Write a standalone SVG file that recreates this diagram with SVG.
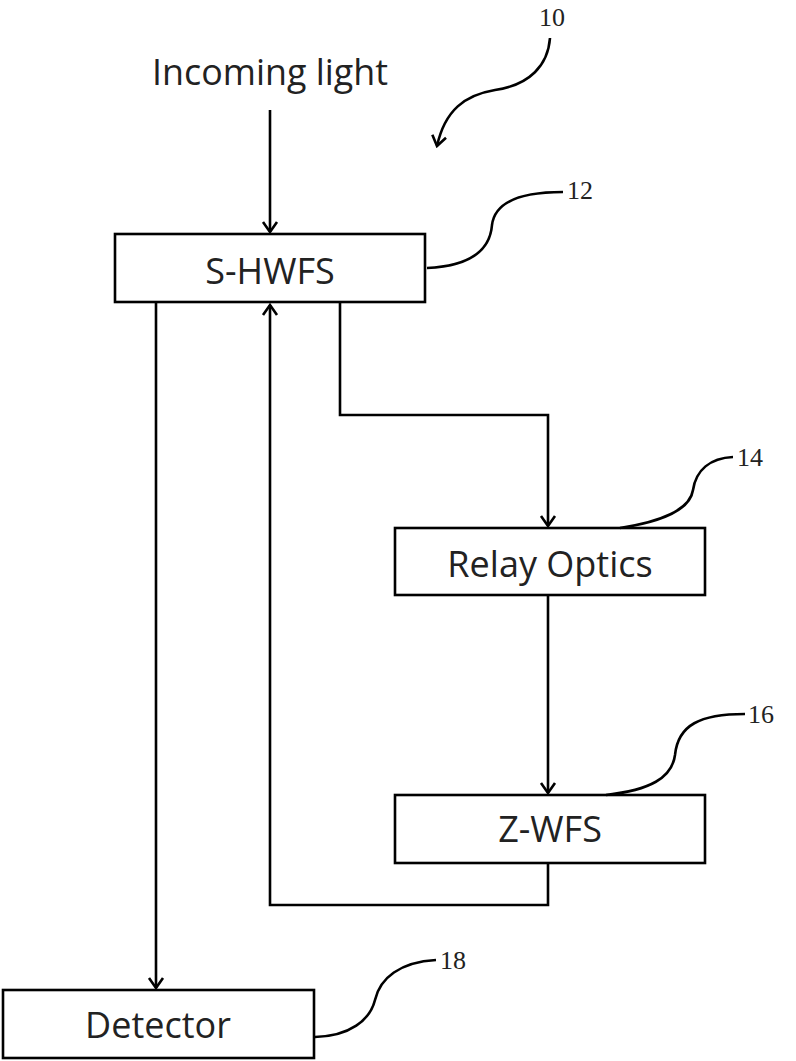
<svg xmlns="http://www.w3.org/2000/svg" width="796" height="1061" viewBox="0 0 796 1061">
<style>
.box{fill:#fff;stroke:#000;stroke-width:2.6}
.lbl{font-family:"Open Sans","Liberation Sans",sans-serif;font-size:36px;fill:#222;text-anchor:middle}
.num{font-family:"Liberation Serif",serif;font-size:26px;fill:#222}
.ln{fill:none;stroke:#000;stroke-width:2.6}
.ld{fill:none;stroke:#000;stroke-width:2.6}
</style>
<defs>
<marker id="ah2" viewBox="0 0 20 20" refX="18" refY="10" markerWidth="20" markerHeight="20" markerUnits="userSpaceOnUse" orient="auto">
<path d="M8,3 L18,10 L8,17" fill="none" stroke="#000" stroke-width="2.6"/>
</marker>
</defs>
<g id="connectors">
<path class="ln" d="M270,110 V232" marker-end="url(#ah2)"/>
<path class="ln" d="M156,303 V988" marker-end="url(#ah2)"/>
<path class="ln" d="M340,303 V415 H548 V526" marker-end="url(#ah2)"/>
<path class="ln" d="M548,595 V793" marker-end="url(#ah2)"/>
<path class="ln" d="M548,863 V905 H270 V305" marker-end="url(#ah2)"/>
</g>
<g id="title">
<text class="lbl" x="270" y="85" textLength="236" lengthAdjust="spacingAndGlyphs">Incoming light</text>
</g>
<g id="ref10">
<text class="num" x="539" y="26">10</text>
<path class="ld" d="M550,38 C548,65 530,85 495,90 C465,95 445,110 437,146" marker-end="url(#ah2)"/>
</g>
<g id="node-shwfs">
<rect class="box" x="115" y="234" width="310" height="68"/>
<text class="lbl" x="270" y="284">S-HWFS</text>
<path class="ld" d="M427,268 C470,266 490,250 492,225 C495,200 525,192 563,192"/>
<text class="num" x="567" y="199">12</text>
</g>
<g id="node-relay">
<rect class="box" x="395" y="528" width="310" height="67"/>
<text class="lbl" x="550" y="577">Relay Optics</text>
<path class="ld" d="M620,528 C660,522 690,510 693,490 C696,470 710,458 733,457"/>
<text class="num" x="737" y="466">14</text>
</g>
<g id="node-zwfs">
<rect class="box" x="395" y="795" width="310" height="68"/>
<text class="lbl" x="550" y="842">Z-WFS</text>
<path class="ld" d="M606,795 C650,790 672,778 675,755 C678,725 700,714 745,714"/>
<text class="num" x="748" y="723">16</text>
</g>
<g id="node-detector">
<rect class="box" x="3" y="990" width="311" height="68"/>
<text class="lbl" x="158" y="1038">Detector</text>
<path class="ld" d="M315,1037 C350,1036 370,1020 375,1000 C380,978 400,962 436,960"/>
<text class="num" x="440" y="969">18</text>
</g>
</svg>
